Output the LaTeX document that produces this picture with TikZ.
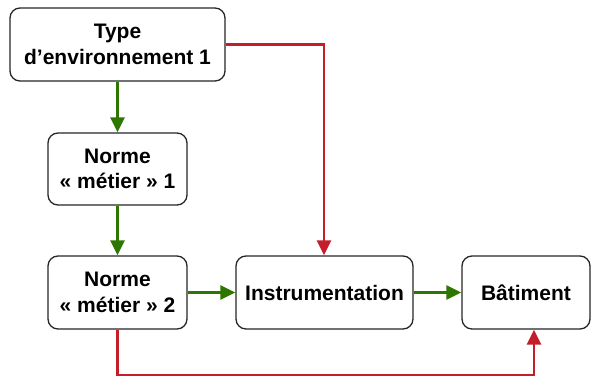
\documentclass[tikz,border=0pt]{standalone}
\usepackage{fontspec}
\setmainfont{Liberation Sans}
\usetikzlibrary{arrows.meta}
\definecolor{grn}{RGB}{45,118,0}
\definecolor{rd}{RGB}{196,30,42}
\begin{document}
\begin{tikzpicture}[x=1pt,y=-1pt,
  box/.style={draw=black!85,line width=1.3pt,rounded corners=10pt,fill=white,
    align=center,font=\fontsize{21}{25.5}\selectfont\bfseries,inner sep=0pt},
  garr/.style={draw=grn,line width=2.4pt,-{Triangle[length=15pt,width=14pt]}},
  rarr/.style={draw=rd,line width=2.4pt,-{Triangle[length=15pt,width=14pt]}}]
\useasboundingbox (0,0) rectangle (598,378);
\node[box,minimum width=215pt,minimum height=73pt] (type) at (117.5,44.5) {Type\\d’environnement 1};
\node[box,minimum width=139pt,minimum height=72pt] (n1) at (117.5,169) {Norme\\« métier » 1};
\node[box,minimum width=139pt,minimum height=73pt] (n2) at (117.5,292.5) {Norme\\« métier » 2};
\node[box,minimum width=177pt,minimum height=73pt] (ins) at (324.5,292.5) {Instrumentation};
\node[box,minimum width=128pt,minimum height=73pt] (bat) at (526,292.5) {Bâtiment};
\coordinate (c1) at (324,44.5);
\coordinate (c2) at (117.5,375);
\coordinate (c3) at (534,375);
\draw[garr] (type) -- (n1);
\draw[garr] (n1) -- (n2);
\draw[garr] (n2) -- (ins);
\draw[garr] (ins) -- (bat);
\draw[rarr] (type.east) -- (c1) -- (c1 |- ins.north);
\draw[rarr] (n2.south) -- (c2) -- (c3) -- (c3 |- bat.south);
\end{tikzpicture}
\end{document}
